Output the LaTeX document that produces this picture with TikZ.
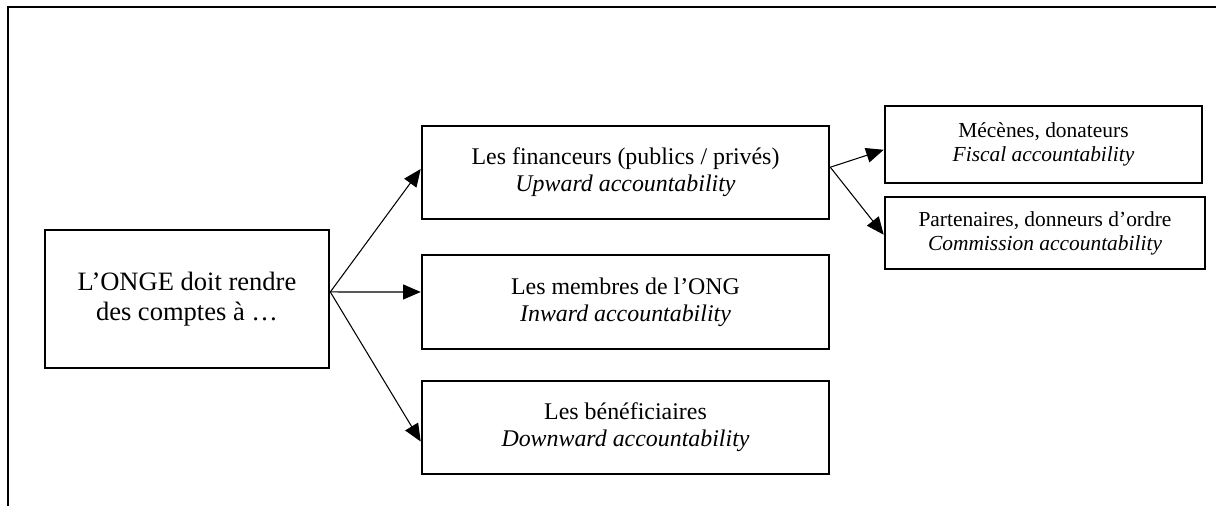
\documentclass[tikz,border=0pt]{standalone}
\usepackage{fontspec}
\setmainfont{Liberation Serif}
\usetikzlibrary{arrows.meta}

\begin{document}
\begin{tikzpicture}[x=0.02cm,y=-0.02cm,
    boite/.style={draw,line width=1.5pt,align=center,inner sep=0pt},
    grand/.style={font=\fontsize{15.1}{17.1}\selectfont},
    moyen/.style={font=\fontsize{13.6}{15.4}\selectfont},
    petit/.style={font=\fontsize{12.2}{13.7}\selectfont},
    fleche/.style={-{Triangle[length=10pt,width=8.5pt]},line width=0.6pt}]
            \useasboundingbox (0,0) rectangle (1216,506);
            \draw[line width=1.6pt] (8,506) -- (8,7) -- (1216,7); % cadre
            \node[boite,grand,minimum width=5.68cm,minimum height=2.76cm] (onge) at (187,299) {L’ONGE doit rendre\\des comptes à …};
            \node[boite,moyen,minimum width=8.14cm,minimum height=1.86cm] (fin) at (625.5,172.5) {Les financeurs (publics / privés)\\\textit{Upward accountability}};
            \node[boite,moyen,minimum width=8.14cm,minimum height=1.88cm] (mem) at (625.5,302) {Les membres de l’ONG\\\textit{Inward accountability}};
            \node[boite,moyen,minimum width=8.14cm,minimum height=1.86cm] (ben) at (625.5,427.5) {Les bénéficiaires\\\textit{Downward accountability}};
            \node[boite,petit,minimum width=6.34cm,minimum height=1.54cm] (mec) at (1043.5,144.5) {Mécènes, donateurs\\\textit{Fiscal accountability}};
            \node[boite,petit,minimum width=6.40cm,minimum height=1.44cm] (par) at (1045,233) {Partenaires, donneurs d’ordre\\\textit{Commission accountability}};
            \coordinate (o1) at ([yshift=4pt]onge.east);
            \coordinate (o2) at ([yshift=3pt]fin.east);
            \draw[fleche] (o1) -- ([yshift=2pt]fin.west);
            \draw[fleche] (o1) -- ([yshift=5.7pt]mem.west);
            \draw[fleche] (o1) -- ([yshift=-8pt]ben.west);
            \draw[fleche] (o2) -- ([yshift=-3pt]mec.west);
            \draw[fleche] (o2) -- ([yshift=-1pt]par.west);
\end{tikzpicture}
\end{document}
